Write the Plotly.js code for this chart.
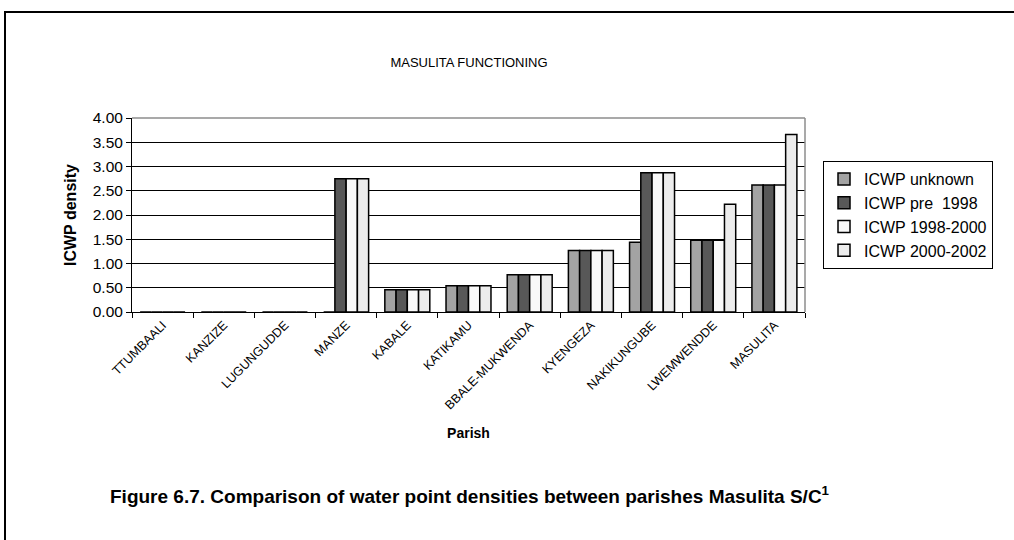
<!DOCTYPE html>
<html>
<head>
<meta charset="utf-8">
<script src="https://cdn.plot.ly/plotly-3.0.1.min.js"></script>
<style>
html,body{margin:0;padding:0;background:#fff;overflow:hidden;}
#frame{position:absolute;left:4px;top:11px;width:1030px;height:560px;border-top:2px solid #000;border-left:2px solid #000;pointer-events:none;z-index:5;}
#chart{position:absolute;left:0;top:0;width:1014px;height:540px;}
</style>
</head>
<body>
<div id="chart"></div>
<div id="frame"></div>
<script>
const parishes = ["TTUMBAALI","KANZIZE","LUGUNGUDDE","MANZE","KABALE","KATIKAMU","BBALE-MUKWENDA","KYENGEZA","NAKIKUNGUBE","LWEMWENDDE","MASULITA"];
const seriesNames = ["ICWP unknown","ICWP pre  1998","ICWP 1998-2000","ICWP 2000-2002"];
const icwpUnknown  = [0,0,0,0,0.46,0.54,0.77,1.27,1.44,1.48,2.62];
const icwpPre1998  = [0,0,0,2.75,0.46,0.54,0.77,1.27,2.87,1.48,2.62];
const icwp19982000 = [0,0,0,2.75,0.46,0.54,0.77,1.27,2.87,1.48,2.62];
const icwp20002002 = [0,0,0,2.75,0.46,0.54,0.77,1.27,2.87,2.22,3.66];
const yTicks = [0,0.5,1,1.5,2,2.5,3,3.5,4];

const seriesValues = [icwpUnknown, icwpPre1998, icwp19982000, icwp20002002];
const colors = ["#a3a3a3","#585858","#f9f9f9","#ececec"];
const FONT = '"Liberation Sans", Arial, sans-serif';

const traces = seriesValues.map((v,i)=>({
  type:'bar', x:parishes, y:v, name:seriesNames[i],
  marker:{color:colors[i], line:{color:'#000', width:1.5}},
  hoverinfo:'x+y+name'
}));

const L=132, R=805, T=118, B=312;
const W=1014, H=540;
const px = x => (x-L)/(R-L);
const py = y => (B-y)/(B-T);

const layout = {
  width:W, height:H,
  margin:{l:L, r:W-R, t:T, b:H-B, pad:0},
  paper_bgcolor:'#fff', plot_bgcolor:'#fff',
  font:{family:FONT, color:'#000'},
  title:{text:'MASULITA FUNCTIONING', font:{size:13, color:'#000', family:FONT}, x:px(469), xref:'paper', xanchor:'center', y:1-62/H, yref:'container', yanchor:'middle'},
  barmode:'group', bargap:0.265, bargroupgap:0,
  showlegend:true,
  legend:{x:px(823), y:py(161), xanchor:'left', yanchor:'top', bordercolor:'#000', borderwidth:1, bgcolor:'#fff', font:{size:16, color:'#000', family:FONT}, tracegroupgap:0, itemwidth:30},
  xaxis:{
    type:'category', showline:true, linecolor:'#000', linewidth:1,
    ticks:'outside', tickson:'boundaries', ticklen:5, tickcolor:'#000',
    tickangle:-45, tickfont:{size:12.5, color:'#000', family:FONT},
    showgrid:false, zeroline:false,
    title:{text:'<b>Parish</b>', font:{size:14, color:'#000', family:FONT}, standoff:16}
  },
  yaxis:{
    range:[0,4], tickvals:yTicks, tickformat:'.2f',
    showline:true, linecolor:'#000', linewidth:1,
    ticks:'outside', ticklen:5, tickcolor:'#000',
    tickfont:{size:15.5, color:'#000', family:FONT},
    showgrid:true, gridcolor:'#000', gridwidth:1, zeroline:false,
    title:{text:'<b>ICWP density</b>', font:{size:16, color:'#000', family:FONT}, standoff:12}
  },
  shapes:[
    {type:'line', xref:'paper', yref:'paper', x0:0, x1:1, y0:1, y1:1, line:{color:'#8c8c8c', width:1.5}},
    {type:'line', xref:'paper', yref:'paper', x0:1, x1:1, y0:0, y1:1, line:{color:'#8c8c8c', width:1.5}}
  ],
  annotations:[
    {text:'<b>Figure 6.7. Comparison of water point densities between parishes Masulita S/C<sup>1</sup></b>',
     xref:'paper', yref:'paper', x:px(470), y:py(495), xanchor:'center', yanchor:'middle', showarrow:false,
     font:{size:19, color:'#000', family:'"Liberation Sans", Arial, sans-serif'}}
  ]
};

Plotly.newPlot('chart', traces, layout, {displayModeBar:false, staticPlot:true});
</script>
</body>
</html>
